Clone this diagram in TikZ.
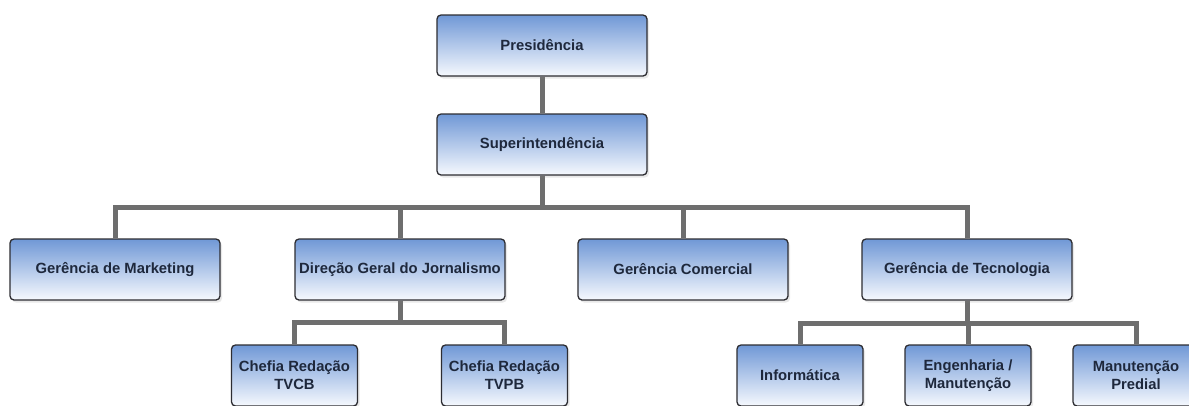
\documentclass[tikz,border=0pt]{standalone}
\usepackage{fontspec}
\setmainfont{Liberation Sans}
\usetikzlibrary{shadows,backgrounds}
\definecolor{boxtop}{RGB}{112,152,214}
\definecolor{boxbot}{RGB}{246,249,254}
\definecolor{boxline}{RGB}{45,45,50}
\definecolor{txt}{RGB}{30,40,60}
\definecolor{conn}{RGB}{110,110,110}
\tikzset{
  orgbox/.style={draw=boxline, line width=1.3pt, rounded corners=4pt,
    top color=boxtop, bottom color=boxbot, middle color=boxtop!50!boxbot,
    minimum height=61pt, inner sep=0pt, align=center, text=txt,
    font=\fontsize{14.8}{18}\selectfont\bfseries,
    drop shadow={opacity=0.18, shadow xshift=2pt, shadow yshift=-2.5pt}},
  widebox/.style={orgbox, minimum width=210pt},
  smallbox/.style={orgbox, minimum width=126pt},
  link/.style={draw=conn, line width=5pt}
}
\begin{document}
\begin{tikzpicture}[x=1pt,y=-1pt]
\useasboundingbox (0,0) rectangle (1189,405);
\clip (0,0) rectangle (1189,405);
\node[widebox] (pres) at (542,45.5) {Presidência};
\node[widebox] (sup) at (542,144.5) {Superintendência};
\node[widebox] (mkt) at (115,269.5) {Gerência de Marketing};
\node[widebox] (dir) at (400,269.5) {Direção Geral do Jornalismo};
\node[widebox] (com) at (683,269.5) {Gerência Comercial};
\node[widebox] (tec) at (967,269.5) {Gerência de Tecnologia};
\node[smallbox] (tvcb) at (294.5,375.5) {Chefia Redação\\TVCB};
\node[smallbox] (tvpb) at (504.5,375.5) {Chefia Redação\\TVPB};
\node[smallbox] (inf) at (800,375.5) {Informática};
\node[smallbox] (eng) at (968,375.5) {Engenharia /\\Manutenção};
\node[smallbox] (man) at (1136,375.5) {Manutenção\\Predial};
\coordinate (b1) at (542,207);
\coordinate (b2) at (400,322);
\coordinate (b3) at (967,323);
\begin{scope}[on background layer]
\fill[white] (0,0) rectangle (1189,405);
\draw[link] (pres.south) -- (sup.north);
\draw[link] (sup.south) -- (b1);
\draw[link] (mkt.north) |- (b1);
\draw[link] (dir.north) |- (b1);
\draw[link] (com.north) |- (b1);
\draw[link] (tec.north) |- (b1);
\draw[link] (dir.south) -- (b2);
\draw[link] (tvcb.north) |- (b2);
\draw[link] (tvpb.north) |- (b2);
\draw[link] (tec.south) -- (b3);
\draw[link] (inf.north) |- (b3);
\draw[link] (eng.north) |- (b3);
\draw[link] (man.north) |- (b3);
\end{scope}
\end{tikzpicture}
\end{document}
